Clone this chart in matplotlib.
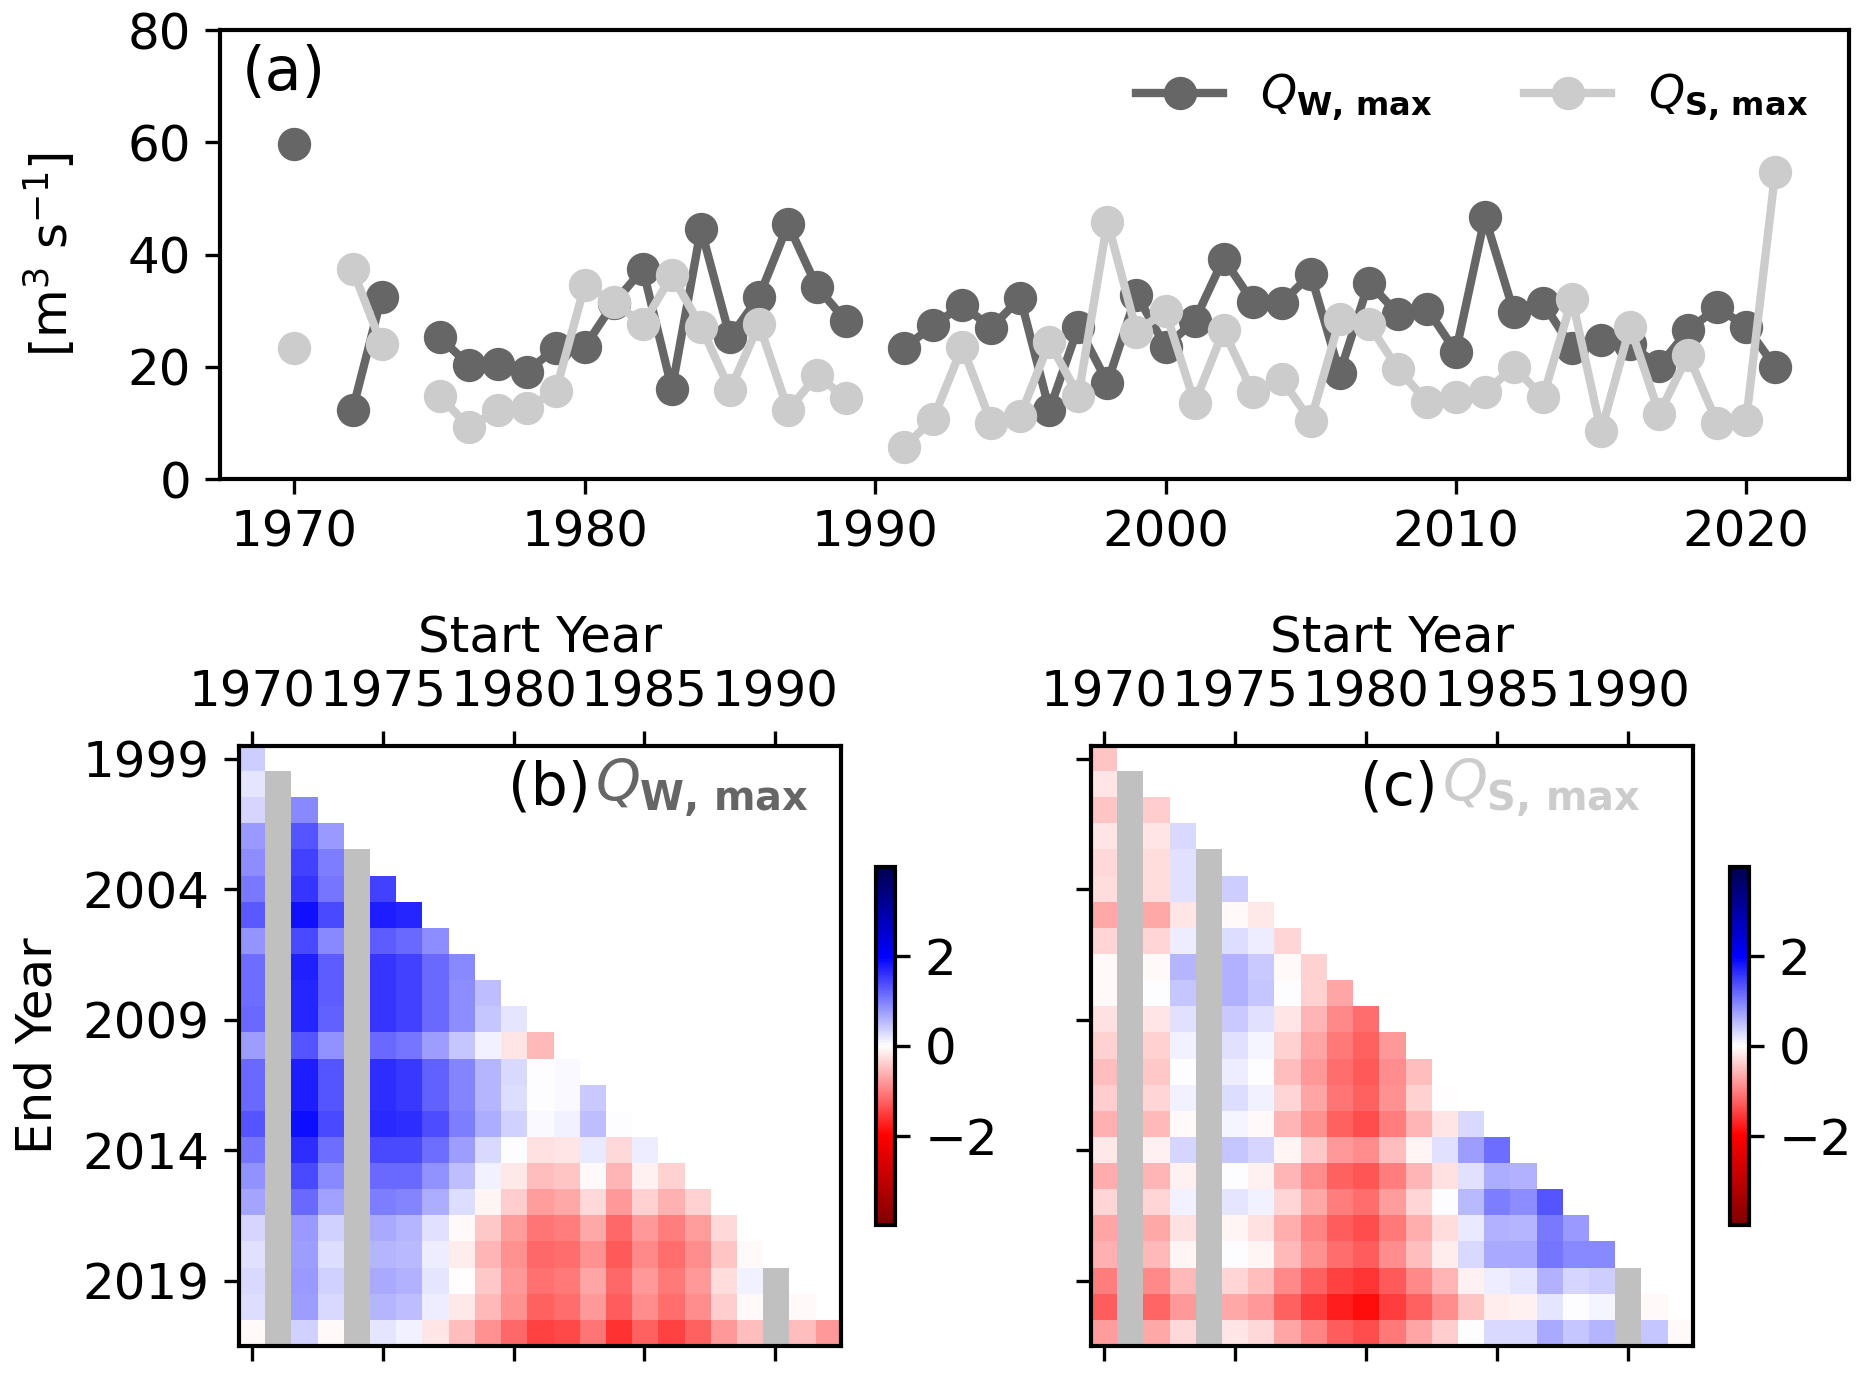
import matplotlib
matplotlib.use("Agg")
import matplotlib.pyplot as plt
from matplotlib.colors import ListedColormap
import numpy as np

plt.rcParams["font.family"] = ["DejaVu Sans"]
plt.rcParams["font.size"] = 12
plt.rcParams["axes.linewidth"] = 1.0

# ---------------- annual maxima (panel a) ----------------
years = list(range(1970, 2022))
q_w_max = [59.7, None, 12.3, 32.5, None, 25.3, 20.4, 20.6, 19.1, 23.4,
           23.6, 31.4, 37.4, 16.1, 44.6, 25.3, 32.5, 45.4, 34.2, 28.2,
           None, 23.4, 27.4, 31.0, 27.0, 32.3, 12.3, 27.2, 17.2, 32.9,
           23.6, 28.2, 39.3, 31.6, 31.4, 36.5, 18.9, 35.0, 29.5, 30.4,
           22.7, 46.7, 29.7, 31.4, 23.4, 24.8, 24.0, 20.2, 26.5, 30.6,
           27.2, 20.0]
q_s_max = [23.4, None, 37.4, 24.0, None, 14.9, 9.3, 12.3, 12.7, 15.7,
           34.6, 31.6, 27.6, 36.3, 27.2, 15.9, 27.6, 12.3, 18.5, 14.4,
           None, 5.7, 10.8, 23.6, 10.0, 11.3, 24.4, 14.9, 45.9, 26.3,
           29.9, 13.6, 26.5, 15.5, 17.8, 10.4, 28.5, 27.6, 19.7, 13.8,
           14.6, 15.5, 20.0, 14.6, 32.1, 8.5, 27.2, 11.7, 22.1, 10.0,
           10.6, 54.8]

# ---------------- trend statistic per window (panels b, c) ----------------
start_years = list(range(1970, 1993))
end_years = list(range(1999, 2022))

# one list per end year, entries for start years 1970 ... end-29 (None = no data)
trend_w = [
    [0.40],
    [0.21, None],
    [0.34, None, 0.93],
    [0.78, None, 1.33, 0.80],
    [0.88, None, 1.47, 1.00, None],
    [1.04, None, 1.58, 1.08, None, 1.48],
    [1.28, None, 1.84, 1.42, None, 1.75, 1.69],
    [0.82, None, 1.42, 0.91, None, 1.26, 1.16, 0.88],
    [1.12, None, 1.72, 1.26, None, 1.58, 1.47, 1.17, 0.91],
    [1.12, None, 1.70, 1.25, None, 1.58, 1.47, 1.16, 0.90, 0.50],
    [1.17, None, 1.69, 1.22, None, 1.57, 1.47, 1.16, 0.90, 0.46, 0.20],
    [0.75, None, 1.33, 0.87, None, 1.17, 1.08, 0.76, 0.46, 0.12, -0.20, -0.53],
    [1.17, None, 1.75, 1.33, None, 1.62, 1.55, 1.24, 0.96, 0.59, 0.30, 0.02, 0.05],
    [1.18, None, 1.76, 1.33, None, 1.62, 1.53, 1.24, 0.96, 0.59, 0.27, 0.02, 0.05, 0.43],
    [1.33, None, 1.87, 1.42, None, 1.67, 1.62, 1.37, 1.00, 0.65, 0.37, 0.04, 0.12, 0.50, 0.02],
    [1.07, None, 1.64, 1.15, None, 1.42, 1.40, 1.14, 0.75, 0.30, 0.00, -0.24, -0.20, 0.18,
     -0.30, 0.13],
    [0.87, None, 1.40, 0.93, None, 1.18, 1.16, 0.87, 0.50, 0.10, -0.18, -0.50, -0.45, -0.04,
     -0.56, -0.12, -0.37],
    [0.71, None, 1.18, 0.73, None, 1.00, 0.96, 0.65, 0.27, -0.09, -0.40, -0.75, -0.67, -0.30,
     -0.80, -0.37, -0.62, -0.37],
    [0.34, None, 0.80, 0.37, None, 0.67, 0.59, 0.24, -0.04, -0.43, -0.75, -1.06, -1.00, -0.67,
     -1.17, -0.80, -1.00, -0.75, -0.30],
    [0.24, None, 0.75, 0.27, None, 0.59, 0.53, 0.15, -0.15, -0.56, -0.87, -1.18, -1.14, -0.84,
     -1.28, -0.93, -1.12, -0.90, -0.46, -0.04],
    [0.30, None, 0.79, 0.37, None, 0.67, 0.60, 0.20, -0.02, -0.43, -0.78, -1.09, -1.03, -0.71,
     -1.17, -0.78, -1.03, -0.78, -0.27, 0.10, None],
    [0.27, None, 0.75, 0.30, None, 0.59, 0.50, 0.13, -0.16, -0.53, -0.87, -1.22, -1.12, -0.78,
     -1.25, -0.90, -1.15, -0.90, -0.40, -0.04, None, -0.05],
    [-0.05, None, 0.37, -0.05, None, 0.20, 0.12, -0.20, -0.50, -0.87, -1.18, -1.47, -1.40, -1.06,
     -1.60, -1.22, -1.47, -1.22, -0.80, -0.50, None, -0.50, -0.80],
]

trend_s = [
    [-0.46],
    [-0.20, None],
    [-0.45, None, -0.40],
    [-0.21, None, -0.20, 0.29],
    [-0.29, None, -0.26, 0.23, None],
    [-0.27, None, -0.26, 0.23, None, 0.40],
    [-0.68, None, -0.67, -0.20, None, -0.04, -0.18],
    [-0.34, None, -0.32, 0.13, None, 0.27, 0.15, -0.32],
    [-0.04, None, -0.04, 0.56, None, 0.62, 0.43, -0.04, -0.37],
    [-0.05, None, 0.02, 0.46, None, 0.60, 0.45, 0.02, -0.37, -0.71],
    [-0.23, None, -0.21, 0.23, None, 0.43, 0.23, -0.21, -0.56, -0.93, -1.12],
    [-0.37, None, -0.37, 0.12, None, 0.23, 0.09, -0.37, -0.71, -1.04, -1.22, -0.80],
    [-0.50, None, -0.43, 0.00, None, 0.13, 0.00, -0.50, -0.80, -1.14, -1.30, -0.90, -0.50],
    [-0.40, None, -0.34, 0.10, None, 0.25, 0.10, -0.34, -0.71, -1.06, -1.22, -0.84, -0.37, -0.02],
    [-0.62, None, -0.53, -0.05, None, 0.09, -0.05, -0.56, -0.87, -1.22, -1.37, -1.00, -0.59,
     -0.20, 0.29],
    [-0.18, None, -0.12, 0.34, None, 0.46, 0.32, -0.09, -0.43, -0.78, -0.90, -0.50, -0.09,
     0.24, 0.75, 1.12],
    [-0.65, None, -0.59, -0.12, None, 0.02, -0.12, -0.56, -0.90, -1.22, -1.33, -1.00, -0.59,
     -0.23, 0.24, 0.65, 0.60],
    [-0.34, None, -0.32, 0.10, None, 0.21, 0.10, -0.32, -0.67, -1.00, -1.12, -0.75, -0.34,
     0.02, 0.53, 1.00, 0.90, 1.31],
    [-0.71, None, -0.67, -0.24, None, -0.07, -0.23, -0.65, -0.96, -1.25, -1.37, -1.04, -0.65,
     -0.27, 0.18, 0.60, 0.56, 1.04, 0.78],
    [-0.62, None, -0.53, -0.09, None, 0.02, -0.09, -0.53, -0.84, -1.12, -1.26, -0.90, -0.50,
     -0.13, 0.29, 0.68, 0.68, 1.06, 0.93, 0.92],
    [-1.00, None, -0.93, -0.53, None, -0.34, -0.50, -0.93, -1.22, -1.47, -1.58, -1.28, -0.93,
     -0.59, -0.12, 0.15, 0.20, 0.60, 0.34, 0.40, None],
    [-1.25, None, -1.20, -0.80, None, -0.67, -0.80, -1.22, -1.50, -1.75, -1.87, -1.50, -1.22,
     -0.90, -0.46, -0.13, -0.10, 0.20, 0.00, 0.09, None, -0.04],
    [-0.75, None, -0.68, -0.30, None, -0.21, -0.30, -0.71, -0.96, -1.25, -1.37, -1.04, -0.71,
     -0.40, 0.02, 0.30, 0.30, 0.68, 0.46, 0.59, None, 0.46, -0.05],
]

color_w = "#666666"
color_s = "#cccccc"
label_w = r"$Q_{\mathbf{W,\,max}}$"
label_s = r"$Q_{\mathbf{S,\,max}}$"
vlim = 3.98


def to_grid(rows):
    """Build value grid and a mask of windows without data (drawn gray)"""
    vals = np.full((len(end_years), len(start_years)), np.nan)
    missing = np.full(vals.shape, np.nan)
    for i, row in enumerate(rows):
        for j, v in enumerate(row):
            if v is None:
                missing[i, j] = 1
            else:
                vals[i, j] = v
    return vals, missing


def as_array(series):
    return np.array([np.nan if v is None else v for v in series], dtype=float)


fig = plt.figure(figsize=(1868 / 300, 1373 / 300), dpi=300)

# ---------------- panel (a) ----------------
ax = fig.add_axes([0.118, 0.651, 0.872, 0.327])
ax.plot(years, as_array(q_w_max), "-o", color=color_w, lw=2, ms=7, label=label_w)
ax.plot(years, as_array(q_s_max), "-o", color=color_s, lw=2, ms=7, label=label_s)
ax.set_ylim(0, 80)
ax.set_yticks([0, 20, 40, 60, 80])
ax.set_xticks([1970, 1980, 1990, 2000, 2010, 2020])
ax.set_ylabel(r"[m$^3$ s$^{-1}$]", labelpad=12)
ax.text(0.013, 0.97, "(a)", transform=ax.transAxes, fontsize=14.5, va="top", ha="left")
ax.legend(loc="upper right", ncol=2, frameon=False, fontsize=11,
          handlelength=1.9, handletextpad=0.8, columnspacing=2.0)

# ---------------- panels (b) and (c) ----------------
gray_cmap = ListedColormap(["#c0c0c0"])
extent = [start_years[0] - 0.5, start_years[-1] + 0.5, end_years[-1] + 0.5, end_years[0] - 0.5]

panels = [
    (trend_w, 0.1278, 0.4688, "(b)", label_w, color_w, True),
    (trend_s, 0.5840, 0.9260, "(c)", label_s, color_s, False),
]

for rows, left, cbar_left, tag, qlabel, qcolor, show_y in panels:
    vals, missing = to_grid(rows)
    hax = fig.add_axes([left, 0.0197, 0.3223, 0.437])
    im = hax.imshow(vals, cmap="seismic_r", vmin=-vlim, vmax=vlim,
                    extent=extent, aspect="auto", interpolation="nearest")
    hax.imshow(missing, cmap=gray_cmap, vmin=0, vmax=1,
               extent=extent, aspect="auto", interpolation="nearest")
    hax.set_xlim(extent[0], extent[1])
    hax.set_ylim(extent[2], extent[3])

    hax.set_xticks([1970, 1975, 1980, 1985, 1990])
    hax.set_yticks([1999, 2004, 2009, 2014, 2019])
    hax.tick_params(axis="x", top=True, labeltop=True, bottom=True, labelbottom=False)
    hax.xaxis.set_label_position("top")
    hax.set_xlabel("Start Year")
    if show_y:
        hax.set_ylabel("End Year", labelpad=5)
    else:
        hax.tick_params(axis="y", labelleft=False)

    # panel letter in black followed by the variable name in its line colour
    t = hax.text(0.447, 0.93, tag, transform=hax.transAxes, fontsize=14,
                 ha="left", va="center")
    hax.annotate(qlabel, xy=(1, 0.5), xycoords=t, xytext=(1, 0),
                 textcoords="offset points", ha="left", va="center",
                 fontsize=13.7, color=qcolor)

    cax = fig.add_axes([cbar_left, 0.1078, 0.0104, 0.2608])
    fig.colorbar(im, cax=cax, ticks=[-2, 0, 2])

fig.savefig("out.png", dpi=300)
